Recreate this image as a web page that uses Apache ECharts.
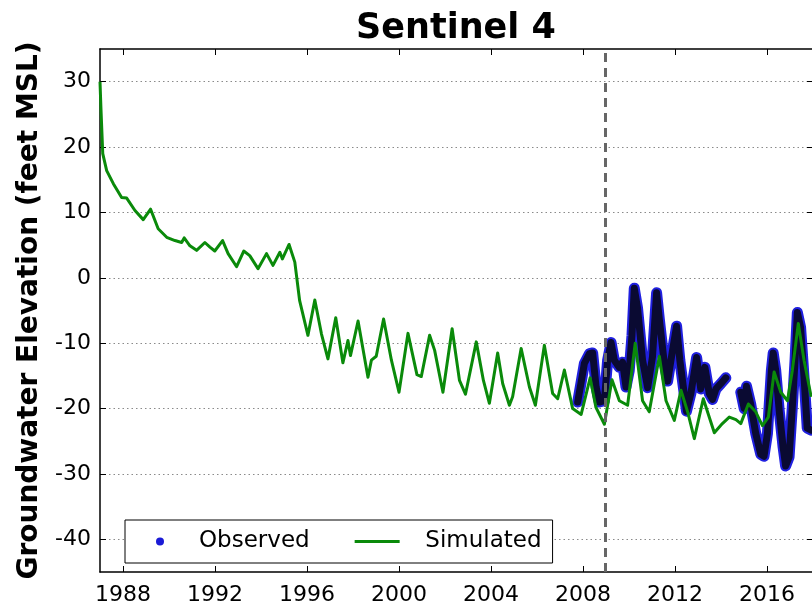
<!DOCTYPE html>
<html>
<head>
<meta charset="utf-8">
<script src="https://cdn.jsdelivr.net/npm/echarts@6/dist/echarts.min.js"></script>
<style>
  html, body { margin: 0; padding: 0; background: #fff; }
  #chart { width: 812px; height: 604px; }
</style>
</head>
<body>
<div id="chart"></div>
<script>
// Tick positions
const yearTicks = [1988, 1992, 1996, 2000, 2004, 2008, 2012, 2016];
const elevTicks = [-40, -30, -20, -10, 0, 10, 20, 30];

// Start of the calibration period (decimal year)
const calibrationStart = 2008.96;

// Simulated groundwater elevation, [decimal year, feet MSL]
const simulated = [
  [1987.0, 30], [1987.04, 26], [1987.12, 19], [1987.29, 16.4], [1987.58, 14.4],
  [1987.94, 12.3], [1988.16, 12.2], [1988.52, 10.3], [1988.88, 8.9], [1989.2, 10.5],
  [1989.53, 7.5], [1989.9, 6.2], [1990.26, 5.7], [1990.55, 5.4], [1990.66, 6.1],
  [1990.91, 4.9], [1991.2, 4.2], [1991.56, 5.4], [1991.78, 4.7], [1991.99, 4.1],
  [1992.33, 5.7], [1992.57, 3.7], [1992.94, 1.7], [1993.25, 4.1], [1993.51, 3.4],
  [1993.87, 1.4], [1994.24, 3.7], [1994.52, 1.9], [1994.82, 3.9], [1994.93, 2.9],
  [1995.22, 5.1], [1995.47, 2.4], [1995.68, -3.5], [1996.04, -8.8], [1996.34, -3.4],
  [1996.63, -8.6], [1996.91, -12.4], [1997.25, -6.1], [1997.56, -13.0], [1997.78, -9.6],
  [1997.89, -11.9], [1998.22, -6.6], [1998.65, -15.2], [1998.8, -12.6], [1999.01, -12.0],
  [1999.33, -6.3], [1999.67, -12.6], [2000.0, -17.5], [2000.39, -8.5], [2000.78, -14.8],
  [2000.97, -15.1], [2001.33, -8.8], [2001.55, -11.1], [2001.91, -17.5], [2002.31, -7.8],
  [2002.63, -15.7], [2002.89, -17.8], [2003.36, -9.8], [2003.67, -15.7], [2003.93, -19.2],
  [2004.29, -11.5], [2004.51, -16.2], [2004.8, -19.5], [2004.94, -18.2], [2005.31, -10.8],
  [2005.67, -16.7], [2005.93, -19.5], [2006.32, -10.3], [2006.68, -17.7], [2006.9, -18.5],
  [2007.19, -14.1], [2007.55, -20.0], [2007.92, -20.9], [2008.31, -15.3], [2008.56, -19.8],
  [2008.93, -22.4], [2009.26, -15.6], [2009.58, -18.8], [2009.94, -19.5], [2010.27, -10.0],
  [2010.59, -18.8], [2010.88, -20.5], [2011.32, -12.0], [2011.61, -18.8], [2011.97, -21.8],
  [2012.26, -17.2], [2012.55, -20.5], [2012.84, -24.6], [2013.23, -18.5], [2013.71, -23.7],
  [2014.06, -22.3], [2014.36, -21.3], [2014.65, -21.7], [2014.86, -22.3], [2015.19, -19.3],
  [2015.51, -20.5], [2015.8, -22.6], [2016.06, -21.3], [2016.31, -14.4], [2016.6, -17.5],
  [2016.89, -18.8], [2017.1, -14.2], [2017.36, -7.0], [2017.61, -12.6], [2017.92, -18.2]
];

// Observed groundwater elevation, first monitoring period
const observedEarly = [
  [2007.77, -19.0], [2008.06, -13.1], [2008.28, -11.6], [2008.42, -11.5], [2008.57, -16.7],
  [2008.71, -19.0], [2008.93, -18.8], [2009.07, -12.6], [2009.22, -9.9], [2009.36, -12.6],
  [2009.58, -13.7], [2009.72, -12.9], [2009.87, -16.7], [2010.01, -14.2], [2010.13, -8.8],
  [2010.23, -1.6], [2010.37, -4.6], [2010.59, -12.6], [2010.81, -16.8], [2011.02, -12.1],
  [2011.2, -2.3], [2011.32, -6.4], [2011.53, -12.9], [2011.68, -15.8], [2011.87, -11.6],
  [2012.07, -7.4], [2012.21, -12.6], [2012.4, -17.7], [2012.5, -20.4], [2012.69, -17.7],
  [2012.94, -12.2], [2013.12, -17.0], [2013.3, -13.7], [2013.49, -17.7], [2013.63, -18.6],
  [2013.78, -17.0], [2013.99, -16.2], [2014.21, -15.3]
];

// Observed groundwater elevation, second monitoring period
const observedLate = [
  [2014.86, -17.5], [2015.01, -20.0], [2015.11, -16.6], [2015.29, -19.3], [2015.51, -23.8],
  [2015.73, -27.0], [2015.87, -27.3], [2016.02, -23.8], [2016.19, -14.2], [2016.27, -11.5],
  [2016.38, -14.2], [2016.53, -20.3], [2016.7, -25.9], [2016.81, -28.8], [2016.96, -27.4],
  [2017.1, -19.8], [2017.22, -12.6], [2017.32, -5.3], [2017.46, -7.6], [2017.61, -15.2],
  [2017.75, -23.0], [2017.92, -23.3]
];

// A gap item separates the two monitoring periods
const observed = observedEarly.concat([['-', '-']], observedLate);

// Series names; the leading spaces set the gap between legend marker and label
const OBSERVED = '\u2002Observed';
const SIMULATED = '\u2002\u2009\u2009Simulated';

const FONT = 'DejaVu Sans';
const tickStyle = { inside: true, length: 6, lineStyle: { color: '#000', width: 1 } };
const spine = { show: true, onZero: false, lineStyle: { color: '#000', width: 1.5 } };

const chart = echarts.init(document.getElementById('chart'), null, { renderer: 'canvas' });
chart.setOption({
  animation: false,
  backgroundColor: '#fff',
  title: {
    text: 'Sentinel 4',
    left: 451, top: 6,
    textAlign: 'center',
    textStyle: { fontFamily: FONT, fontWeight: 'bold', fontSize: 35, color: '#000' }
  },
  grid: { left: 100, top: 49, right: -1, bottom: 32, outerBoundsMode: 'none' },
  legend: {
    left: 125, top: 520,
    orient: 'horizontal',
    padding: [10, 11, 10, 31],
    borderColor: '#000', borderWidth: 1, borderRadius: 0,
    backgroundColor: '#fff',
    itemWidth: 45, itemHeight: 8, itemGap: 45,
    textStyle: { fontFamily: FONT, fontSize: 23, color: '#000' },
    data: [
      { name: OBSERVED, icon: 'circle', itemStyle: { color: '#1a1ad6' } },
      { name: SIMULATED, icon: 'path://M0 0H45V3H0Z', itemStyle: { color: '#0a8a0a' } }
    ]
  },
  xAxis: [
    {
      type: 'value', position: 'bottom', min: 1987, max: 2018,
      axisLine: spine,
      axisTick: Object.assign({ customValues: yearTicks }, tickStyle),
      axisLabel: {
        customValues: yearTicks, margin: 12,
        fontFamily: FONT, fontSize: 22, color: '#000',
        formatter: v => String(v)
      },
      splitLine: { show: false }
    },
    {
      type: 'value', position: 'top', min: 1987, max: 2018,
      axisLine: spine,
      axisTick: Object.assign({ customValues: yearTicks }, tickStyle),
      axisLabel: { show: false },
      splitLine: { show: false }
    }
  ],
  yAxis: [
    {
      type: 'value', position: 'left', min: -45, max: 35,
      name: 'Groundwater Elevation (feet MSL)',
      nameLocation: 'middle', nameGap: 47,
      nameTextStyle: { fontFamily: FONT, fontWeight: 'bold', fontSize: 28, color: '#000' },
      axisLine: spine,
      axisTick: Object.assign({ customValues: elevTicks }, tickStyle),
      axisLabel: {
        customValues: elevTicks, margin: 9,
        fontFamily: FONT, fontSize: 22, color: '#000',
        formatter: v => String(v)
      },
      splitLine: { show: true, lineStyle: { color: '#8a8a8a', width: 1, type: [1.5, 3] } }
    },
    {
      type: 'value', position: 'right', min: -45, max: 35,
      axisLine: spine,
      axisTick: Object.assign({ customValues: elevTicks }, tickStyle),
      axisLabel: { show: false },
      splitLine: { show: false }
    }
  ],
  series: [
    {
      name: OBSERVED, type: 'line', data: observed,
      color: '#1a1ad6',
      showSymbol: false, symbol: 'none', connectNulls: false,
      lineStyle: { color: '#2020e0', width: 11, cap: 'round', join: 'round' }
    },
    {
      name: OBSERVED, type: 'line', data: observed,
      color: '#1a1ad6',
      showSymbol: false, symbol: 'none', connectNulls: false,
      lineStyle: { color: '#0a0a32', width: 7, cap: 'round', join: 'round' }
    },
    {
      name: SIMULATED, type: 'line', data: simulated,
      color: '#0a8a0a',
      showSymbol: false, symbol: 'none',
      lineStyle: { color: '#0a8a0a', width: 3, join: 'round' },
      markLine: {
        silent: true, symbol: ['none', 'none'],
        label: { show: false },
        lineStyle: { color: '#666', width: 3, type: [9, 6] },
        data: [{ xAxis: calibrationStart }]
      }
    }
  ]
});
</script>
</body>
</html>
